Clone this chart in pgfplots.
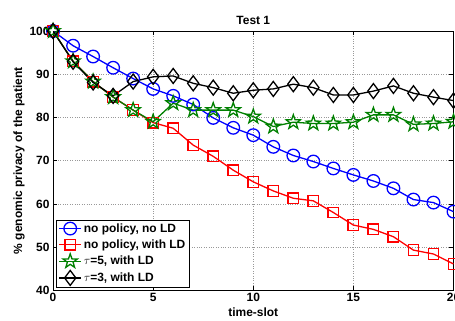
\documentclass[border=0pt]{standalone}
\usepackage{fontspec}
\setmainfont{Liberation Sans}
\usepackage{pgfplots}
\pgfplotsset{compat=1.18}
\definecolor{mgreen}{rgb}{0,0.5,0}
\pgfdeclareplotmark{pentagram}{%
  \pgfpathmoveto{\pgfqpointpolar{90}{\pgfplotmarksize}}%
  \pgfpathlineto{\pgfqpointpolar{126}{0.4\pgfplotmarksize}}%
  \pgfpathlineto{\pgfqpointpolar{162}{\pgfplotmarksize}}%
  \pgfpathlineto{\pgfqpointpolar{198}{0.4\pgfplotmarksize}}%
  \pgfpathlineto{\pgfqpointpolar{234}{\pgfplotmarksize}}%
  \pgfpathlineto{\pgfqpointpolar{270}{0.4\pgfplotmarksize}}%
  \pgfpathlineto{\pgfqpointpolar{306}{\pgfplotmarksize}}%
  \pgfpathlineto{\pgfqpointpolar{342}{0.4\pgfplotmarksize}}%
  \pgfpathlineto{\pgfqpointpolar{18}{\pgfplotmarksize}}%
  \pgfpathlineto{\pgfqpointpolar{54}{0.4\pgfplotmarksize}}%
  \pgfpathclose
  \pgfusepathqstroke}
\begin{document}
\begin{tikzpicture}
\begin{axis}[name=ax, scale only axis, width=400bp, height=259bp,
  xmin=0, xmax=20, ymin=40, ymax=100,
  xtick={0,5,10,15,20}, ytick={40,50,60,70,80,90,100},
  grid=major, grid style={dotted, gray!80, line width=0.5pt},
  axis line style={line width=0.9pt},
  tick align=inside, major tick length=4bp, tick style={black, line width=0.5pt},
  /pgf/number format/assume math mode=true,
  ticklabel style={font=\fontsize{12}{14}\selectfont\bfseries},
  xticklabel style={yshift=1bp},
  title={Test 1}, title style={font=\fontsize{12}{14}\selectfont\bfseries, yshift=-3bp},
  xlabel={time-slot}, xlabel style={font=\fontsize{12}{14}\selectfont\bfseries, yshift=0bp},
  ylabel={\% genomic privacy of the patient}, ylabel style={font=\fontsize{12}{14}\selectfont\bfseries, yshift=-2bp},
  legend style={at={(0.008,0.012)}, anchor=south west, font=\fontsize{12}{14}\selectfont\bfseries,
    draw=black, line width=0.6pt, inner xsep=2pt, inner ysep=1.5pt, row sep=2pt, cells={anchor=west}},
  legend cell align=left,
  legend image code/.code={\draw[mark repeat=2,mark phase=2] plot coordinates {(0bp,0bp) (11bp,0bp) (22bp,0bp)};},
  every axis plot/.append style={line width=1.3pt},
]
\addplot[blue, mark=o, mark size=6.3bp, mark options={line width=1.3pt}] coordinates {
(0,100) (1,96.6) (2,94.1) (3,91.5) (4,89.0) (5,86.6) (6,85.0) (7,83.0) (8,79.9) (9,77.6) (10,75.9)
(11,73.2) (12,71.2) (13,69.8) (14,68.2) (15,66.7) (16,65.3) (17,63.6) (18,61.0) (19,60.3) (20,58.2)};
\addlegendentry{no policy, no LD}
\addplot[red, mark=square, mark size=5.3bp, mark options={line width=1.3pt}] coordinates {
(0,100) (1,93.0) (2,88.3) (3,84.7) (4,81.7) (5,78.8) (6,77.5) (7,73.6) (8,71.0) (9,67.8) (10,65.1)
(11,63.0) (12,61.3) (13,60.7) (14,58.0) (15,55.1) (16,54.1) (17,52.4) (18,49.3) (19,48.4) (20,46.1)};
\addlegendentry{no policy, with LD}
\addplot[mgreen, mark=pentagram, mark size=7.5bp, mark options={line width=1.3pt}] coordinates {
(0,100) (1,93.0) (2,88.3) (3,84.7) (4,81.7) (5,79.0) (6,83.3) (7,81.7) (8,81.7) (9,81.7) (10,80.2)
(11,77.9) (12,78.9) (13,78.6) (14,78.6) (15,78.9) (16,80.6) (17,80.6) (18,78.4) (19,78.6) (20,79.0)};
\addlegendentry{$\tau$=5, with LD}
\addplot[black, mark=diamond, mark size=7.5bp, mark options={line width=1.3pt}] coordinates {
(0,100) (1,92.9) (2,88.1) (3,85.0) (4,88.3) (5,89.4) (6,89.6) (7,87.9) (8,86.9) (9,85.6) (10,86.3)
(11,86.6) (12,87.7) (13,86.9) (14,85.2) (15,85.2) (16,86.1) (17,87.3) (18,85.6) (19,84.7) (20,83.9)};
\addlegendentry{$\tau$=3, with LD}
\end{axis}
\pgfresetboundingbox
\path[use as bounding box] ([xshift=-53bp,yshift=-30bp]ax.south west) rectangle ([xshift=1.5bp,yshift=31bp]ax.north east);
\end{tikzpicture}
\end{document}
